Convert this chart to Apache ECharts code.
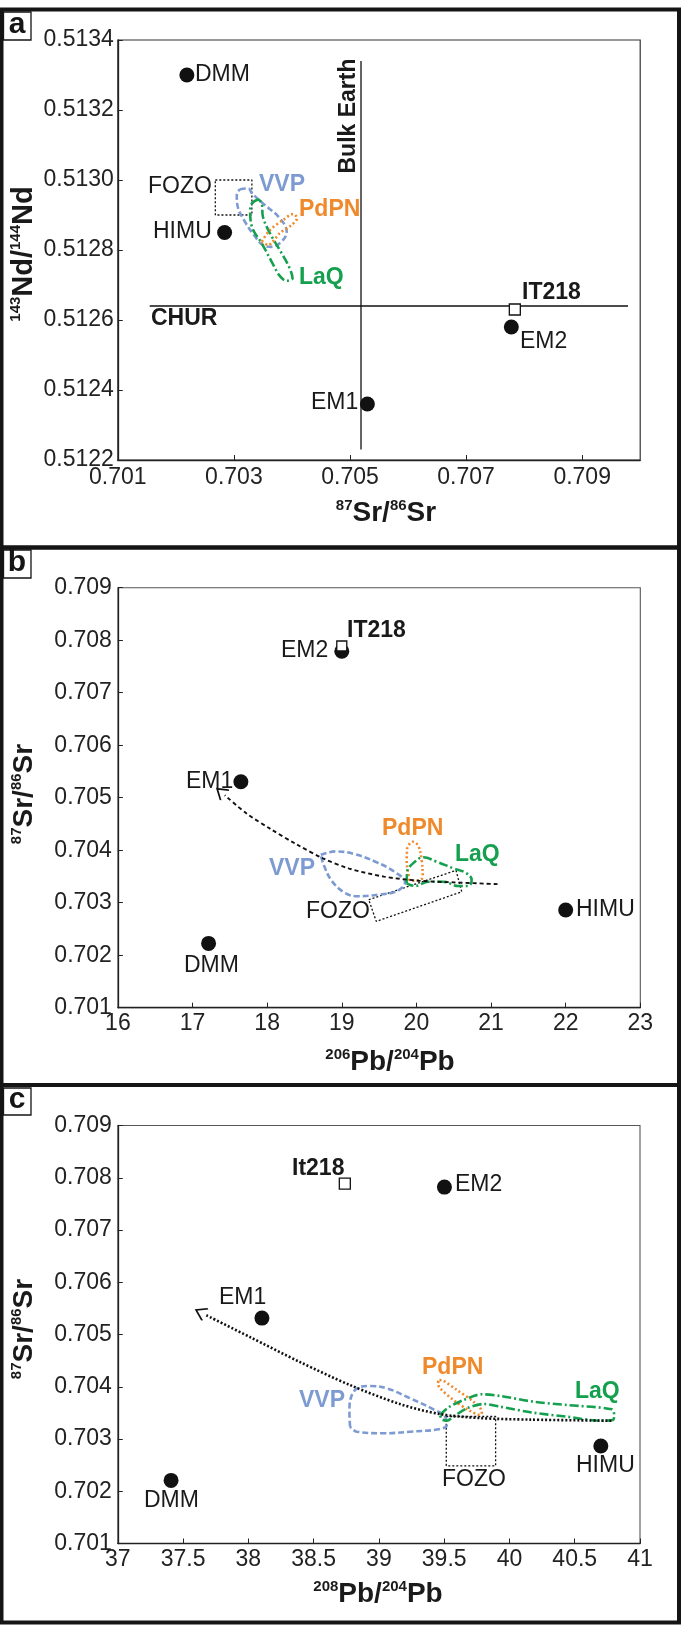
<!DOCTYPE html>
<html><head><meta charset="utf-8">
<script src="https://cdn.jsdelivr.net/npm/echarts@6/dist/echarts.min.js"></script>
<style>html,body{margin:0;padding:0;background:#fff}#c{width:685px;height:1625px}</style>
</head><body><div id="c"></div>
<script>
// ---------- Panel a : 87Sr/86Sr (x) vs 143Nd/144Nd (y) ----------
const aXTicks = [0.701, 0.703, 0.705, 0.707, 0.709];
const aYTicks = [0.5122, 0.5124, 0.5126, 0.5128, 0.5130, 0.5132, 0.5134];
const aEndmembers = [['DMM', 0.70219, 0.51330], ['HIMU', 0.70284, 0.51285], ['EM2', 0.70778, 0.51258], ['EM1', 0.70530, 0.51236]];
const aIT218 = [[0.70784, 0.51263]];
const aBulkEarth = [[0.70519, 0.51334], [0.70519, 0.51223]];
const aCHUR = [[0.70155, 0.51264], [0.70979, 0.51264]];
const aFOZO = [[0.70268, 0.51300], [0.70331, 0.51300], [0.70331, 0.51290], [0.70268, 0.51290], [0.70268, 0.51300]];
const aVVP = [[0.70310, 0.512973], [0.70325, 0.512976], [0.70331, 0.512962], [0.70353, 0.512929], [0.70379, 0.512891], [0.70391, 0.512852], [0.70382, 0.512824], [0.70365, 0.512809], [0.70350, 0.512814], [0.70339, 0.512833], [0.70319, 0.512881], [0.70306, 0.512929], [0.70305, 0.512957], [0.70310, 0.512973]];
const aLaQ = [[0.70342, 0.512945], [0.70331, 0.512933], [0.70328, 0.512909], [0.70332, 0.512862], [0.70348, 0.512819], [0.70365, 0.512767], [0.70379, 0.512726], [0.70391, 0.512712], [0.70401, 0.512719], [0.70395, 0.512752], [0.70379, 0.512800], [0.70362, 0.512848], [0.70350, 0.512895], [0.70348, 0.512933], [0.70342, 0.512945]];
const aPdPN = [[0.70348, 0.512824], [0.70362, 0.512857], [0.70385, 0.512886], [0.70402, 0.512903], [0.70409, 0.512891], [0.70399, 0.512871], [0.70379, 0.512848], [0.70359, 0.512814], [0.70348, 0.512824]];

// ---------- Panel b : 206Pb/204Pb (x) vs 87Sr/86Sr (y) ----------
const bXTicks = [16, 17, 18, 19, 20, 21, 22, 23];
const srTicks = [0.701, 0.702, 0.703, 0.704, 0.705, 0.706, 0.707, 0.708, 0.709];
const bEndmembers = [['EM2', 19.00, 0.70779], ['EM1', 17.648, 0.705305], ['DMM', 17.215, 0.702225], ['HIMU', 22.00, 0.70286]];
const bIT218 = [[19.00, 0.70789]];
const bFOZO = [[19.361, 0.703057], [20.531, 0.703615], [20.607, 0.703208], [19.462, 0.702644], [19.361, 0.703057]];
const bTrend = [[21.087, 0.703354], [20.502, 0.703387], [20.034, 0.703419], [19.566, 0.703497], [19.099, 0.703650], [18.748, 0.703846], [18.397, 0.704109], [18.046, 0.704404], [17.724, 0.704699], [17.432, 0.705048]];
const bVVP = [[18.718, 0.703912], [18.923, 0.703977], [19.158, 0.703931], [19.450, 0.703781], [19.712, 0.703583], [19.848, 0.703387], [19.742, 0.703223], [19.508, 0.703156], [19.215, 0.703124], [19.040, 0.703189], [18.864, 0.703419], [18.760, 0.703714], [18.718, 0.703912]];
const bPdPN = [[19.877, 0.704055], [19.869, 0.703813], [19.891, 0.703560], [19.923, 0.703419], [20.025, 0.703419], [20.084, 0.703495], [20.070, 0.703813], [20.025, 0.704080], [19.950, 0.704162], [19.877, 0.704055]];
const bLaQ = [[19.869, 0.703370], [19.877, 0.703590], [19.980, 0.703781], [20.092, 0.703865], [20.271, 0.703781], [20.494, 0.703655], [20.673, 0.703560], [20.740, 0.703432], [20.695, 0.703318], [20.561, 0.703318], [20.360, 0.703400], [20.159, 0.703400], [19.980, 0.703318], [19.869, 0.703370]];

// ---------- Panel c : 208Pb/204Pb (x) vs 87Sr/86Sr (y) ----------
const cXTicks = [37, 37.5, 38, 38.5, 39, 39.5, 40, 40.5, 41];
const cEndmembers = [['EM2', 39.502, 0.707821], ['EM1', 38.104, 0.705314], ['DMM', 37.408, 0.702208], ['HIMU', 40.70, 0.702866]];
const cIT218 = [[38.739, 0.707888]];
const cFOZO = [[39.516, 0.703431], [39.894, 0.703431], [39.894, 0.702487], [39.516, 0.702487], [39.516, 0.703431]];
const cTrend = [[40.780, 0.703350], [40.159, 0.703371], [39.776, 0.703400], [39.469, 0.703477], [39.162, 0.703668], [38.779, 0.704032], [38.396, 0.704472], [38.013, 0.704950], [37.668, 0.705381]];
const cVVP = [[38.779, 0.703235], [38.774, 0.703555], [38.818, 0.703938], [38.933, 0.704014], [39.061, 0.703970], [39.239, 0.703779], [39.418, 0.703568], [39.507, 0.703427], [39.520, 0.703268], [39.469, 0.703191], [39.239, 0.703140], [39.034, 0.703109], [38.831, 0.703140], [38.779, 0.703235]];
const cPdPN = [[39.464, 0.704129], [39.494, 0.704116], [39.597, 0.703938], [39.724, 0.703714], [39.789, 0.703522], [39.776, 0.703459], [39.686, 0.703555], [39.571, 0.703746], [39.469, 0.703970], [39.451, 0.704066], [39.464, 0.704129]];
const cLaQ = [[39.469, 0.703459], [39.533, 0.703607], [39.648, 0.703746], [39.789, 0.703856], [39.929, 0.703823], [40.184, 0.703714], [40.440, 0.703651], [40.785, 0.703568], [40.802, 0.703459], [40.792, 0.703364], [40.695, 0.703350], [40.440, 0.703427], [40.184, 0.703503], [39.929, 0.703618], [39.801, 0.703670], [39.674, 0.703588], [39.571, 0.703427], [39.520, 0.703350], [39.482, 0.703377], [39.469, 0.703459]];

// ---------- styling ----------
const FONT = '"Liberation Sans", Arial, sans-serif';
const INK = '#1a1a1a';
const C_VVP = '#7d9bd2', C_PDPN = '#ef8a2c', C_LAQ = '#14a04e';
const TICK_FS = 23, LBL_FS = 23;

function axisCfg(gi, min, max, interval, ticks, fmt, margin) {
  return {
    gridIndex: gi, type: 'value', min, max, interval,
    axisLine: {show: true, onZero: false, lineStyle: {color: '#222', width: 1.3}},
    axisTick: {show: true, inside: true, length: 5, customValues: ticks, lineStyle: {color: '#222', width: 1}},
    axisLabel: {customValues: ticks, formatter: fmt, fontSize: TICK_FS, fontFamily: FONT, color: '#222', margin},
    splitLine: {show: false}
  };
}
function line(gi, data, color, type, width, smooth, z) {
  return {type: 'line', xAxisIndex: gi, yAxisIndex: gi, data, symbol: 'none', smooth: smooth || false,
    lineStyle: {color, width, type, opacity: 1}, silent: true, z: z || 2};
}
function dots(gi, em) {
  return {type: 'scatter', xAxisIndex: gi, yAxisIndex: gi, data: em.map(d => [d[1], d[2]]),
    symbol: 'circle', symbolSize: 15, itemStyle: {color: '#111', opacity: 1}, z: 5, silent: true};
}
function square(gi, data, size) {
  return {type: 'scatter', xAxisIndex: gi, yAxisIndex: gi, data, symbol: 'rect', symbolSize: size,
    itemStyle: {color: '#fff', borderColor: '#111', borderWidth: 1.3, opacity: 1}, z: 6, silent: true};
}
function arrowHead(gi, trend, rot) {
  return {type: 'scatter', xAxisIndex: gi, yAxisIndex: gi, data: [trend[trend.length - 1]],
    symbol: 'path://M0,12L6,0L12,12M6,24L6,24.01', symbolSize: [13, 20], symbolKeepAspect: false, symbolRotate: rot,
    itemStyle: {color: 'none', borderColor: '#111', borderWidth: 1.8, opacity: 1}, z: 6, silent: true};
}

function txt(text, x, y, o) {
  o = o || {};
  return {type: 'text', x, y, rotation: o.rot || 0, z: 100, silent: true,
    style: {text, fill: o.color || INK, fontSize: o.size || LBL_FS, fontWeight: o.bold ? 'bold' : 'normal', fontFamily: FONT,
      align: o.align || 'left', textAlign: o.align || 'left', verticalAlign: 'middle', textVerticalAlign: 'middle'}};
}
function title(text, x, y, rot, big, small) {
  return {type: 'text', x, y, rotation: rot || 0, z: 100, silent: true,
    style: {text, fill: INK, align: 'center', textAlign: 'center', verticalAlign: 'middle', textVerticalAlign: 'middle',
      rich: {
        s: {fontSize: small, fontWeight: 'bold', fontFamily: FONT, fill: INK, verticalAlign: 'top', lineHeight: big + 2},
        b: {fontSize: big, fontWeight: 'bold', fontFamily: FONT, fill: INK, lineHeight: big + 2}
      }}};
}
function frame(y1, y2) {
  return {type: 'rect', z: 90, silent: true, shape: {x: 1.5, y: y1, width: 677.5, height: y2 - y1},
    style: {fill: 'none', stroke: '#151515', lineWidth: 4}};
}
function letterBox(ch, y1, y2) {
  return [
    {type: 'rect', z: 95, silent: true, shape: {x: 3.5, y: y1, width: 27.5, height: y2 - y1}, style: {fill: '#fff', stroke: '#151515', lineWidth: 1.3}},
    {type: 'text', z: 96, silent: true, x: 17, y: (y1 + y2) / 2 - 1.5,
      style: {text: ch, fill: '#151515', fontSize: 30, fontWeight: 'bold', fontFamily: FONT, align: 'center', textAlign: 'center', verticalAlign: 'middle', textVerticalAlign: 'middle'}}
  ];
}

const f3 = v => v.toFixed(3), f4 = v => v.toFixed(4), fi = v => String(v), fh = v => (v % 1 === 0 ? String(v) : v.toFixed(1));

const option = {
  animation: false,
  backgroundColor: '#fff',
  grid: [
    {left: 117.8, top: 40, width: 522.4, height: 420, show: true, borderColor: '#333', borderWidth: 1.2},
    {left: 117.9, top: 587.7, width: 522.4, height: 420, show: true, borderColor: '#555', borderWidth: 1.1},
    {left: 117.8, top: 1125.5, width: 522.2, height: 418, show: true, borderColor: '#555', borderWidth: 1.1}
  ],
  xAxis: [
    axisCfg(0, 0.701, 0.710, 0.001, aXTicks, f3, 6),
    axisCfg(1, 16, 23, 1, bXTicks, fi, 4),
    axisCfg(2, 37, 41, 0.5, cXTicks, fh, 5)
  ],
  yAxis: [
    axisCfg(0, 0.5122, 0.5134, 0.0002, aYTicks, f4, 4),
    axisCfg(1, 0.701, 0.709, 0.001, srTicks, f3, 6),
    axisCfg(2, 0.701, 0.709, 0.001, srTicks, f3, 6)
  ],
  series: [
    // panel a
    line(0, aBulkEarth, '#111', 'solid', 1.3, false, 1),
    line(0, aCHUR, '#111', 'solid', 1.3, false, 1),
    line(0, aFOZO, '#111', [2, 2], 1.3, false),
    line(0, aVVP, C_VVP, [6, 3], 2.6, 0.4),
    line(0, aLaQ, C_LAQ, [9, 3, 2, 3], 2.6, 0.35),
    line(0, aPdPN, C_PDPN, [2, 2.5], 2.6, 0.3),
    dots(0, aEndmembers),
    square(0, aIT218, 11),
    // panel b
    line(1, bFOZO, '#111', [2, 2], 1.3, false),
    line(1, bVVP, C_VVP, [6, 3], 2.6, 0.4),
    line(1, bPdPN, C_PDPN, [2, 2.5], 2.6, 0.4),
    line(1, bLaQ, C_LAQ, [9, 3, 2, 3], 2.6, 0.4),
    line(1, bTrend, '#111', [4, 3], 1.9, 0.3, 3),
    arrowHead(1, bTrend, 50),
    dots(1, bEndmembers),
    square(1, bIT218, 10),
    // panel c
    line(2, cFOZO, '#111', [2, 2], 1.3, false),
    line(2, cVVP, C_VVP, [6, 3], 2.6, 0.4),
    line(2, cPdPN, C_PDPN, [2, 2.5], 2.6, 0.3),
    line(2, cLaQ, C_LAQ, [9, 3, 2, 3], 2.6, 0.3),
    line(2, cTrend, '#111', [2, 2], 2.6, 0.3, 3),
    arrowHead(2, cTrend, 63),
    dots(2, cEndmembers),
    square(2, cIT218, 11)
  ],
  graphic: {elements: [
    frame(9.5, 547.5), frame(547.5, 1085), frame(1085, 1622.5),
    ...letterBox('a', 12, 40), ...letterBox('b', 550, 578), ...letterBox('c', 1088, 1115),
    // axis titles
    title('{s|87}{b|Sr/}{s|86}{b|Sr}', 386, 513, 0, 28, 15),
    title('{s|143}{b|Nd/}{s|144}{b|Nd}', 24, 254, Math.PI / 2, 29, 15),
    title('{s|206}{b|Pb/}{s|204}{b|Pb}', 390, 1062, 0, 28, 15),
    title('{s|87}{b|Sr/}{s|86}{b|Sr}', 24, 794, Math.PI / 2, 28, 15),
    title('{s|208}{b|Pb/}{s|204}{b|Pb}', 378, 1594, 0, 28, 15),
    title('{s|87}{b|Sr/}{s|86}{b|Sr}', 24, 1329, Math.PI / 2, 28, 15),
    // panel a labels
    txt('DMM', 195, 75), txt('FOZO', 148, 187), txt('HIMU', 153, 232), txt('EM2', 520, 342), txt('EM1', 311, 403),
    txt('IT218', 522, 293, {bold: true}), txt('CHUR', 151, 319, {bold: true}),
    txt('Bulk Earth', 349, 116, {bold: true, align: 'center', rot: Math.PI / 2}),
    txt('VVP', 259, 185, {bold: true, color: C_VVP}), txt('PdPN', 299, 210, {bold: true, color: C_PDPN}), txt('LaQ', 299, 278, {bold: true, color: C_LAQ}),
    // panel b labels
    txt('IT218', 347, 631, {bold: true}), txt('EM2', 281, 651), txt('EM1', 186, 782), txt('DMM', 184, 966), txt('HIMU', 576, 910), txt('FOZO', 306, 912),
    txt('VVP', 269, 869, {bold: true, color: C_VVP}), txt('PdPN', 382, 829, {bold: true, color: C_PDPN}), txt('LaQ', 455, 855, {bold: true, color: C_LAQ}),
    // panel c labels
    txt('It218', 292, 1169, {bold: true}), txt('EM2', 455, 1185), txt('EM1', 219, 1298), txt('DMM', 144, 1501), txt('HIMU', 576, 1466), txt('FOZO', 442, 1480),
    txt('VVP', 299, 1401, {bold: true, color: C_VVP}), txt('PdPN', 422, 1368, {bold: true, color: C_PDPN}), txt('LaQ', 575, 1392, {bold: true, color: C_LAQ})
  ]}
};

const chart = echarts.init(document.getElementById('c'), null, {renderer: 'canvas'});
chart.setOption(option);
</script>
</body></html>
